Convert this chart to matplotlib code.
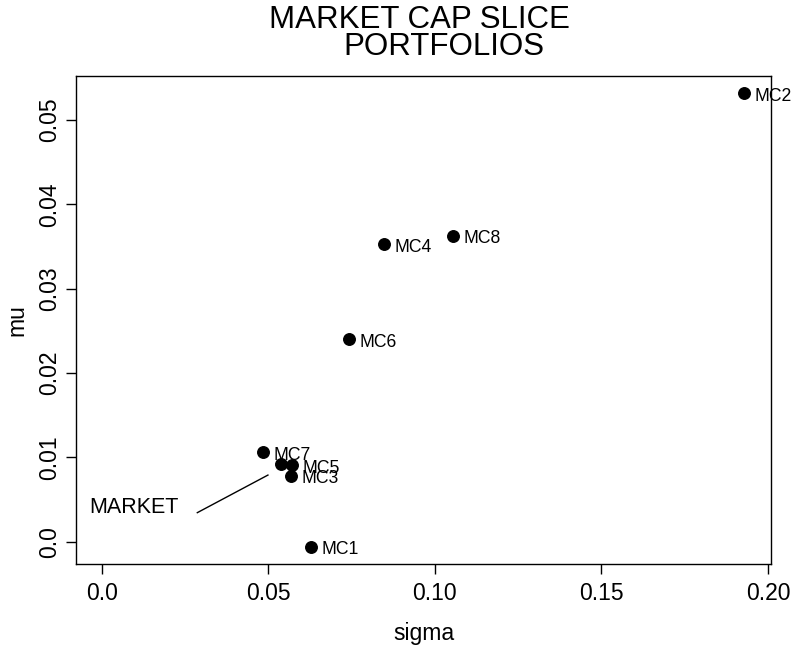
import matplotlib
matplotlib.use('Agg')
import matplotlib.pyplot as plt

plt.rcParams['font.family'] = ['Liberation Sans', 'DejaVu Sans']

# portfolio risk / return
names = ['MC1', 'MC2', 'MC3', 'MC4', 'MC5', 'MC6', 'MC7', 'MC8']
sigma = [0.0628, 0.1929, 0.0567, 0.0847, 0.0572, 0.0743, 0.0485, 0.1055]
mu = [-0.0006, 0.0532, 0.0078, 0.0353, 0.0091, 0.0240, 0.0106, 0.0363]
mkt_sigma = 0.0538
mkt_mu = 0.0092
# MARKET label and its pointer line
mkt_text_xy = (0.0097, 0.0040)
mkt_line_x = [0.0287, 0.0499]
mkt_line_y = [0.00344, 0.0079]

xticks = [0.0, 0.05, 0.10, 0.15, 0.20]
xticklabels = ['0.0', '0.05', '0.10', '0.15', '0.20']
yticks = [0.0, 0.01, 0.02, 0.03, 0.04, 0.05]
yticklabels = ['0.0', '0.01', '0.02', '0.03', '0.04', '0.05']

fig = plt.figure(figsize=(7.97, 6.5), dpi=100)
ax = fig.add_axes([0.0954, 0.1323, 0.9674 - 0.0954, 0.8831 - 0.1323])

ax.plot(sigma, mu, 'o', color='black', markersize=8.3, clip_on=False)
ax.plot([mkt_sigma], [mkt_mu], 'o', color='black', markersize=8.3)
for n, s, m in zip(names, sigma, mu):
    ax.annotate(n, (s, m), xytext=(7.5, -2.2), textcoords='offset points',
                ha='left', va='center', fontsize=12.7, annotation_clip=False,
                clip_on=False)

ax.text(mkt_text_xy[0], mkt_text_xy[1], 'MARKET', ha='center', va='center', fontsize=15.5)
ax.plot(mkt_line_x, mkt_line_y, color='black', lw=1.0)

ax.set_xlim(-0.0077, 0.2009)
ax.set_ylim(-0.00265, 0.05524)
ax.set_xticks(xticks)
ax.set_xticklabels(xticklabels)
ax.set_yticks(yticks)
ax.set_yticklabels(yticklabels, rotation=90, va='center')
ax.tick_params(direction='out', length=7.2, width=1.0, labelsize=16.5, pad=6)
ax.tick_params(axis='y', pad=3.5)
for sp in ax.spines.values():
    sp.set_linewidth(1.0)

ax.set_xlabel('sigma', fontsize=16.5, labelpad=12)
# y label placed directly so it sits where R puts it
fig.text(16.5 / 797, 0.5 * (0.1323 + 0.8831), 'mu', rotation=90,
         ha='center', va='center', fontsize=16.5)

fig.text(419 / 797, 1 - 28 / 650, 'MARKET CAP SLICE', ha='center', va='baseline', fontsize=22.5)
fig.text(444 / 797, 1 - 55 / 650, 'PORTFOLIOS', ha='center', va='baseline', fontsize=22.5)

fig.savefig('out.png', dpi=100)
